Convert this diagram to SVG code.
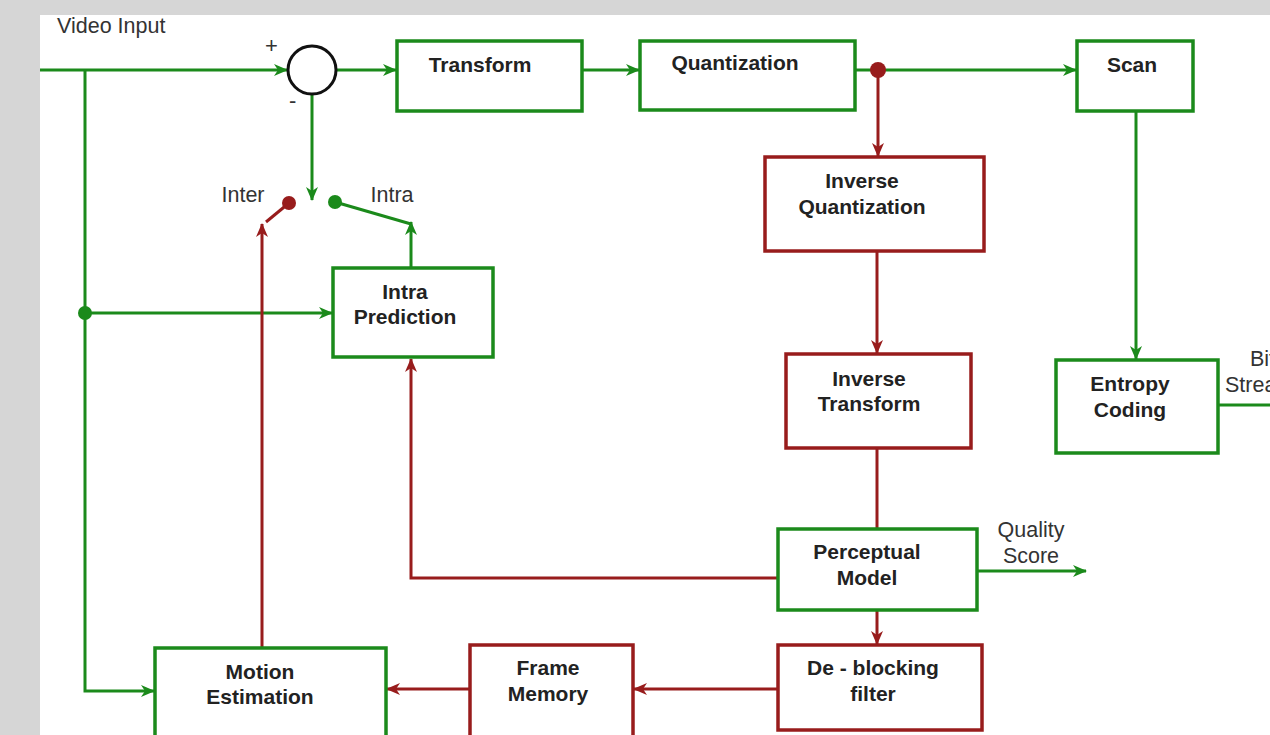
<svg xmlns="http://www.w3.org/2000/svg" width="1270" height="735" viewBox="0 0 1270 735">
<style>
.g{stroke:#1b8a1b;}
.r{stroke:#981c1c;}
.box{fill:#ffffff;stroke-width:3.5;}
.ln{fill:none;stroke-width:3;}
.t{font-family:"Liberation Sans",Arial,sans-serif;font-size:21px;font-weight:bold;fill:#222;text-anchor:middle;}
.l{font-family:"Liberation Sans",Arial,sans-serif;font-size:21.5px;fill:#333;}
.lc{text-anchor:middle;}
</style>
<defs>
<marker id="ag" viewBox="0 0 14 14" refX="13" refY="7" markerWidth="14" markerHeight="14" markerUnits="userSpaceOnUse" orient="auto">
<path d="M0,1 L14,7 L0,13 L4,7 z" fill="#1b8a1b"/>
</marker>
<marker id="ar" viewBox="0 0 14 14" refX="13" refY="7" markerWidth="14" markerHeight="14" markerUnits="userSpaceOnUse" orient="auto">
<path d="M0,1 L14,7 L0,13 L4,7 z" fill="#981c1c"/>
</marker>
</defs>
<rect x="0" y="0" width="1270" height="735" fill="#d6d6d6"/>
<rect x="40" y="15" width="1230" height="720" fill="#ffffff"/>

<g id="connectors">
<path class="ln g" d="M40,70 L287,70" marker-end="url(#ag)"/>
<path class="ln g" d="M85,70 L85,691 L154,691" marker-end="url(#ag)"/>
<path class="ln g" d="M85,313 L332,313" marker-end="url(#ag)"/>
<circle cx="85" cy="313" r="7" fill="#1b8a1b"/>
<path class="ln g" d="M336,70 L396,70" marker-end="url(#ag)"/>
<path class="ln g" d="M582,70 L639,70" marker-end="url(#ag)"/>
<path class="ln g" d="M855,70 L1076,70" marker-end="url(#ag)"/>
<path class="ln r" d="M878,70 L878,156" marker-end="url(#ar)"/>
<circle cx="878" cy="70" r="8" fill="#981c1c"/>
<path class="ln r" d="M877,251 L877,353" marker-end="url(#ar)"/>
<path class="ln r" d="M877,448 L877,529"/>
<path class="ln r" d="M877,610 L877,644" marker-end="url(#ar)"/>
<path class="ln g" d="M977,571 L1086,571" marker-end="url(#ag)"/>
<path class="ln r" d="M778,578 L411,578 L411,359" marker-end="url(#ar)"/>
<path class="ln r" d="M778,689 L634,689" marker-end="url(#ar)"/>
<path class="ln r" d="M470,689 L387,689" marker-end="url(#ar)"/>
<path class="ln r" d="M262,648 L262,224" marker-end="url(#ar)"/>
<path class="ln r" d="M289,203 L266,222"/>
<circle cx="289" cy="203" r="7" fill="#981c1c"/>
<path class="ln g" d="M312,94 L312,200" marker-end="url(#ag)"/>
<path class="ln g" d="M335,202 L411,224"/>
<circle cx="335" cy="202" r="7" fill="#1b8a1b"/>
<path class="ln g" d="M411,268 L411,222" marker-end="url(#ag)"/>
<path class="ln g" d="M1136,111 L1136,359" marker-end="url(#ag)"/>
<path class="ln g" d="M1218,405 L1270,405"/>
</g>

<g id="labels">
<text class="l" x="57" y="33">Video Input</text>
<text class="l" x="265" y="53" style="font-size:22px">+</text>
<text class="l" x="289" y="108" style="font-size:22px">-</text>
<text class="l lc" x="243" y="202">Inter</text>
<text class="l lc" x="392" y="202">Intra</text>
<text class="l lc" x="1031" y="537">Quality</text>
<text class="l lc" x="1031" y="563">Score</text>
<text class="l" x="1250" y="366">Bit</text>
<text class="l" x="1225" y="392">Stream</text>
</g>

<g id="sum">
<circle cx="312" cy="70" r="24" fill="#ffffff" stroke="#111" stroke-width="3"/>
</g>

<g id="transform">
<rect class="box g" x="397" y="41" width="185" height="70"/>
<text class="t" x="480" y="72">Transform</text>
</g>
<g id="quantization">
<rect class="box g" x="640" y="41" width="215" height="69"/>
<text class="t" x="735" y="70">Quantization</text>
</g>
<g id="scan">
<rect class="box g" x="1077" y="41" width="116" height="70"/>
<text class="t" x="1132" y="72">Scan</text>
</g>
<g id="inverse-quantization">
<rect class="box r" x="765" y="157" width="219" height="94"/>
<text class="t" x="862" y="188">Inverse</text>
<text class="t" x="862" y="214">Quantization</text>
</g>
<g id="inverse-transform">
<rect class="box r" x="786" y="354" width="185" height="94"/>
<text class="t" x="869" y="386">Inverse</text>
<text class="t" x="869" y="411">Transform</text>
</g>
<g id="entropy-coding">
<rect class="box g" x="1056" y="360" width="162" height="93"/>
<text class="t" x="1130" y="391">Entropy</text>
<text class="t" x="1130" y="417">Coding</text>
</g>
<g id="intra-prediction">
<rect class="box g" x="333" y="268" width="160" height="89"/>
<text class="t" x="405" y="299">Intra</text>
<text class="t" x="405" y="324">Prediction</text>
</g>
<g id="perceptual-model">
<rect class="box g" x="778" y="529" width="199" height="81"/>
<text class="t" x="867" y="559">Perceptual</text>
<text class="t" x="867" y="585">Model</text>
</g>
<g id="deblocking-filter">
<rect class="box r" x="778" y="645" width="204" height="85"/>
<text class="t" x="873" y="675">De - blocking</text>
<text class="t" x="873" y="701">filter</text>
</g>
<g id="frame-memory">
<rect class="box r" x="470" y="645" width="163" height="100"/>
<text class="t" x="548" y="675">Frame</text>
<text class="t" x="548" y="701">Memory</text>
</g>
<g id="motion-estimation">
<rect class="box g" x="155" y="648" width="231" height="100"/>
<text class="t" x="260" y="679">Motion</text>
<text class="t" x="260" y="704">Estimation</text>
</g>
</svg>
